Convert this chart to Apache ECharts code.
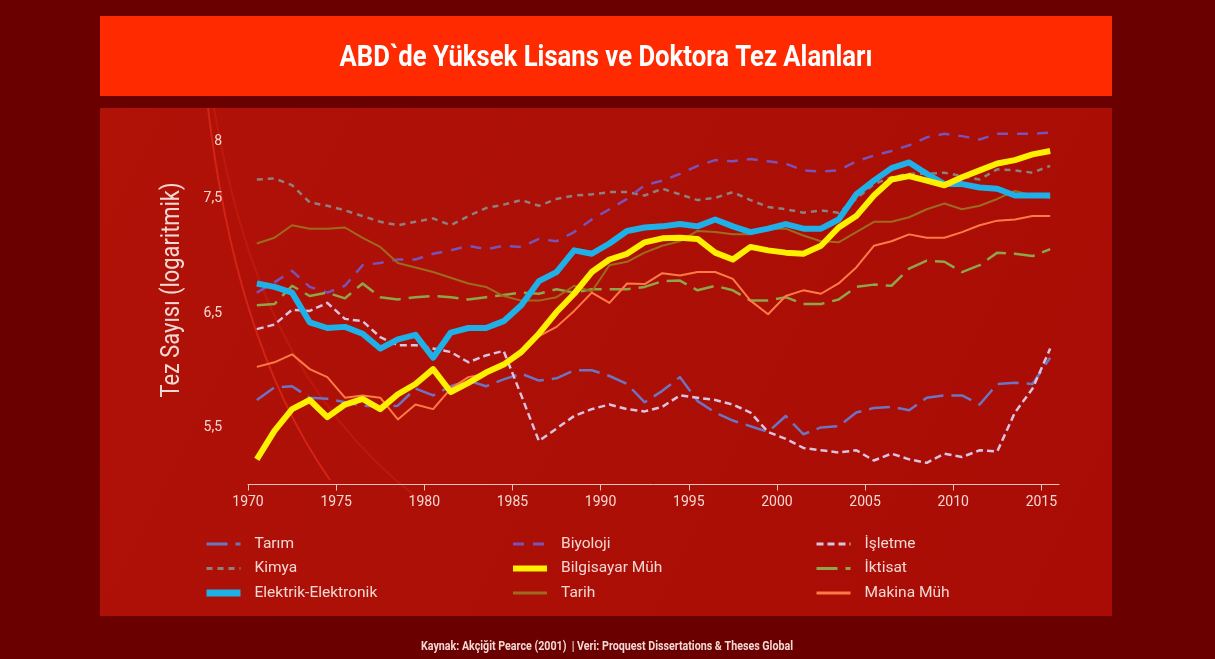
<!DOCTYPE html>
<html>
<head>
<meta charset="utf-8">
<script src="https://cdn.jsdelivr.net/npm/echarts@6/dist/echarts.min.js"></script>
<style>html,body{margin:0;padding:0;background:#6b0000;}#c{width:1215px;height:659px;}</style>
</head>
<body>
<div id="c"></div>
<script>
const years = [1970,1971,1972,1973,1974,1975,1976,1977,1978,1979,1980,1981,1982,1983,1984,1985,1986,1987,1988,1989,1990,1991,1992,1993,1994,1995,1996,1997,1998,1999,2000,2001,2002,2003,2004,2005,2006,2007,2008,2009,2010,2011,2012,2013,2014,2015];
const xTicks = [1970,1975,1980,1985,1990,1995,2000,2005,2010,2015];
const yTicks = [5.5,6.5,7.5,8];

const tarim = [5.74,5.85,5.86,5.76,5.75,5.72,5.69,5.68,5.69,5.84, 5.78,5.86,5.91,5.86,5.92,5.97,5.91,5.93,6.00,6.00, 5.95,5.88,5.72,5.82,5.94,5.73,5.63,5.56,5.51,5.46, 5.60,5.44,5.50,5.51,5.63,5.67,5.68,5.65,5.76,5.78, 5.78,5.70,5.88,5.89,5.88,6.11];
const kimya = [7.67,7.68,7.62,7.47,7.44,7.40,7.35,7.30,7.27,7.30, 7.33,7.27,7.35,7.42,7.45,7.49,7.44,7.50,7.53,7.54, 7.56,7.56,7.53,7.59,7.54,7.49,7.51,7.56,7.49,7.43, 7.41,7.38,7.40,7.38,7.50,7.63,7.69,7.72,7.72,7.73, 7.70,7.67,7.76,7.75,7.73,7.79];
const elektrik = [6.76,6.73,6.68,6.42,6.37,6.38,6.32,6.19,6.27,6.31, 6.11,6.33,6.37,6.37,6.43,6.57,6.78,6.86,7.05,7.02, 7.11,7.22,7.25,7.26,7.28,7.26,7.32,7.26,7.21,7.24, 7.28,7.24,7.24,7.32,7.54,7.66,7.77,7.82,7.72,7.63, 7.63,7.60,7.59,7.53,7.53,7.53];
const biyoloji = [6.68,6.77,6.87,6.73,6.68,6.74,6.92,6.94,6.97,6.97, 7.02,7.05,7.09,7.06,7.09,7.08,7.15,7.13,7.21,7.32, 7.41,7.50,7.62,7.66,7.72,7.79,7.84,7.83,7.85,7.83, 7.81,7.75,7.74,7.75,7.83,7.88,7.92,7.97,8.04,8.07, 8.05,8.02,8.07,8.07,8.07,8.08];
const bilgisayar = [5.22,5.47,5.66,5.74,5.59,5.70,5.75,5.66,5.79,5.88, 6.01,5.81,5.89,5.98,6.05,6.16,6.32,6.51,6.67,6.86, 6.97,7.02,7.12,7.155,7.16,7.15,7.03,6.97,7.08,7.05, 7.03,7.02,7.09,7.25,7.35,7.53,7.67,7.70,7.66,7.62, 7.69,7.75,7.81,7.84,7.89,7.92];
const tarih = [7.11,7.16,7.27,7.24,7.24,7.25,7.16,7.08,6.94,6.90, 6.86,6.81,6.76,6.73,6.65,6.61,6.61,6.64,6.74,6.69, 6.92,6.95,7.03,7.09,7.13,7.22,7.21,7.19,7.19,7.24, 7.24,7.18,7.13,7.12,7.21,7.30,7.30,7.34,7.41,7.46, 7.41,7.44,7.50,7.57,7.53,7.51];
const isletme = [6.36,6.40,6.53,6.52,6.59,6.45,6.43,6.29,6.22,6.22, 6.19,6.16,6.07,6.13,6.17,5.78,5.38,5.49,5.60,5.66, 5.70,5.66,5.64,5.68,5.78,5.76,5.74,5.70,5.63,5.46, 5.40,5.32,5.30,5.28,5.30,5.21,5.27,5.22,5.19,5.27, 5.24,5.30,5.29,5.63,5.84,6.19];
const iktisat = [6.57,6.58,6.74,6.65,6.68,6.63,6.76,6.64,6.62,6.64, 6.65,6.64,6.62,6.64,6.66,6.68,6.67,6.71,6.68,6.71, 6.71,6.71,6.73,6.78,6.785,6.70,6.74,6.70,6.61,6.61, 6.64,6.58,6.58,6.62,6.73,6.75,6.74,6.89,6.96,6.95, 6.86,6.92,7.03,7.02,7.00,7.06];
const makina = [6.03,6.07,6.14,6.01,5.94,5.76,5.78,5.76,5.57,5.70, 5.66,5.84,5.94,5.97,6.04,6.14,6.30,6.38,6.52,6.68, 6.59,6.76,6.755,6.85,6.83,6.86,6.86,6.80,6.61,6.49, 6.65,6.70,6.67,6.76,6.90,7.09,7.13,7.19,7.16,7.16, 7.21,7.27,7.31,7.32,7.35,7.35];

const TITLE = 'ABD`de Yüksek Lisans ve Doktora Tez Alanları';
const FOOTER = 'Kaynak: Akçiğit Pearce (2001)  | Veri: Proquest Dissertations & Theses Global';
const YNAME = 'Tez Sayısı (logaritmik)';

const FONT = "Roboto";
const TXT = '#f4d8d4';

// horizontal squeeze factor so a text in a regular font takes the width of the condensed original
const ctx = document.createElement('canvas').getContext('2d');
function squeeze(text, font, target) {
  ctx.font = font;
  const w = ctx.measureText(text).width;
  return Math.min(1, target / w);
}

// points are drawn at the middle of each year
const pts = vals => years.map((y, i) => [y + 0.5, vals[i]]);

function mk(name, vals, color, width, type, z) {
  return {
    name, type: 'line', data: pts(vals), symbol: 'none', z: z || 2,
    lineStyle: { color, width, type: type || 'solid', cap: 'butt', join: 'round' },
    itemStyle: { color }, emphasis: { disabled: true }, animation: false
  };
}

const series = [
  mk('Tarım', tarim, '#6e74c2', 2.5, [21, 8]),
  mk('Kimya', kimya, '#8f7f7d', 2.5, [6, 5]),
  mk('Biyoloji', biyoloji, '#7a52b8', 2.5, [11, 9]),
  mk('İşletme', isletme, '#d9c3e2', 2.5, [7, 4]),
  mk('İktisat', iktisat, '#8ea64a', 2.5, [21, 8]),
  mk('Tarih', tarih, '#9d6a1e', 2),
  mk('Makina Müh', makina, '#ff7a45', 2),
  mk('Elektrik-Elektronik', elektrik, '#1fb0e8', 6, 'solid', 3),
  mk('Bilgisayar Müh', bilgisayar, '#fff000', 6, 'solid', 4)
];
const legendW = { 'Elektrik-Elektronik': 7, 'Bilgisayar Müh': 6 };

function legendCol(left, names) {
  return {
    orient: 'vertical', left, top: 536, padding: 0, itemWidth: 34, itemHeight: 14, itemGap: 8.5,
    data: names.map(n => ({ name: n, lineStyle: { width: legendW[n] || 3 } })), selectedMode: false,
    itemStyle: { opacity: 0 },
    textStyle: { color: TXT, fontSize: 15.5, fontFamily: FONT, padding: [0, 0, 0, 9] }
  };
}

const titleFont = 'bold 29px ' + FONT;
const footFont = 'bold 13px ' + FONT;
const yFont = '26px ' + FONT;

const chart = echarts.init(document.getElementById('c'));
chart.setOption({
  backgroundColor: '#6b0000',
  animation: false,
  graphic: [
    { type: 'rect', z: -10, shape: { x: 100, y: 16, width: 1012, height: 80 }, style: { fill: '#ff2a00' } },
    { type: 'rect', z: -10, shape: { x: 100, y: 108, width: 1012, height: 508 },
      style: { fill: { type: 'linear', x: 0, y: 0, x2: 1, y2: 1, colorStops: [{ offset: 0, color: '#b01208' }, { offset: 1, color: '#a80c04' }] } } },
    { type: 'bezierCurve', z: -9, shape: { x1: 208, y1: 108, x2: 330, y2: 480, cpx1: 225, cpy1: 250, cpx2: 260, cpy2: 380 }, style: { stroke: 'rgba(255,60,40,0.45)', lineWidth: 2, fill: null } },
    { type: 'bezierCurve', z: -9, shape: { x1: 214, y1: 108, x2: 420, y2: 500, cpx1: 240, cpy1: 260, cpx2: 290, cpy2: 400 }, style: { stroke: 'rgba(255,60,40,0.18)', lineWidth: 2, fill: null } },
    { type: 'text', z: 10, x: 607, y: 647, scaleX: squeeze(FOOTER, footFont, 372),
      style: { text: FOOTER, x: 0, y: 0, align: 'center', verticalAlign: 'middle', fill: TXT, font: footFont } },
    { type: 'text', z: 10, x: 606, y: 59, scaleX: squeeze(TITLE, titleFont, 533),
      style: { text: TITLE, x: 0, y: 0, align: 'center', verticalAlign: 'middle', fill: '#ffffff', font: titleFont } },
    { type: 'text', z: 10, x: 172, y: 290, rotation: Math.PI / 2, scaleX: squeeze(YNAME, yFont, 215),
      style: { text: YNAME, x: 0, y: 0, align: 'center', verticalAlign: 'middle', fill: TXT, font: yFont } }
  ],
  legend: [
    legendCol(203, ['Tarım', 'Kimya', 'Elektrik-Elektronik']),
    legendCol(510, ['Biyoloji', 'Bilgisayar Müh', 'Tarih']),
    legendCol(815, ['İşletme', 'İktisat', 'Makina Müh'])
  ],
  grid: { left: 248, right: 156, top: 119, bottom: 174.5, containLabel: false },
  xAxis: {
    type: 'value', min: 1970, max: 2016, interval: 5,
    splitLine: { show: false },
    axisLine: { show: true, lineStyle: { color: '#e9c4c0', width: 1 } },
    axisTick: { show: true, customValues: xTicks, length: 6, lineStyle: { color: '#e9c4c0' } },
    axisLabel: { customValues: xTicks, color: TXT, fontSize: 14, fontFamily: FONT, margin: 11, formatter: v => String(v) }
  },
  yAxis: {
    type: 'value', min: 5, max: 8.2, interval: 0.5,
    splitLine: { show: false }, axisLine: { show: false }, axisTick: { show: false },
    axisLabel: { customValues: yTicks, color: TXT, fontSize: 14, fontFamily: FONT, margin: 26,
      formatter: v => String(v).replace('.', ',') }
  },
  series
});
</script>
</body>
</html>
